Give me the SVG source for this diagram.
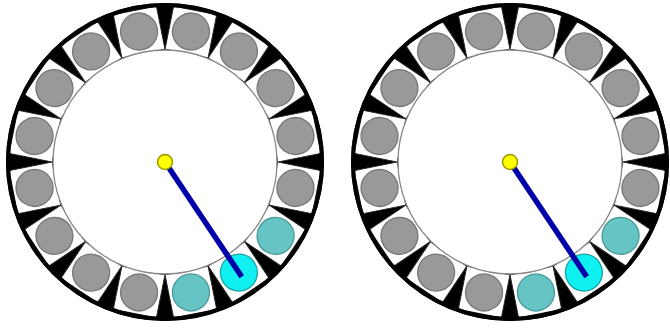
<svg xmlns="http://www.w3.org/2000/svg" xmlns:xlink="http://www.w3.org/1999/xlink" width="670" height="328" viewBox="0 0 670 328">
  <style>
    .rim { fill: #000; }
    .ring { fill: none; stroke: #000; stroke-width: 4; }
    .pocket { fill: #fff; stroke: #222; stroke-width: 1; }
    .hub { fill: #fff; stroke: #888; stroke-width: 1.3; }
    .ball { fill: #999; stroke: #777; stroke-width: 1.3; }
    .teal { fill: #66c4c4; stroke: #4a9a9a; stroke-width: 1.3; }
    .cyan { fill: #11f0f0; stroke: #1aa0a0; stroke-width: 1.3; }
    .rod { stroke: #0000aa; stroke-width: 5.5; stroke-linecap: butt; }
    .pivot { fill: #ffff00; stroke: #999900; stroke-width: 1.5; }
  </style>
  <defs>
    <path id="pocket" class="pocket" d="M110.6,-22 L154.6,-22 L154.6,22 L110.6,22 Z"/>
    <g id="wheelbase">
      <circle class="rim" r="159"/>
      <use xlink:href="#pocket" transform="rotate(11.25)"/>
      <use xlink:href="#pocket" transform="rotate(33.75)"/>
      <use xlink:href="#pocket" transform="rotate(56.25)"/>
      <use xlink:href="#pocket" transform="rotate(78.75)"/>
      <use xlink:href="#pocket" transform="rotate(101.25)"/>
      <use xlink:href="#pocket" transform="rotate(123.75)"/>
      <use xlink:href="#pocket" transform="rotate(146.25)"/>
      <use xlink:href="#pocket" transform="rotate(168.75)"/>
      <use xlink:href="#pocket" transform="rotate(191.25)"/>
      <use xlink:href="#pocket" transform="rotate(213.75)"/>
      <use xlink:href="#pocket" transform="rotate(236.25)"/>
      <use xlink:href="#pocket" transform="rotate(258.75)"/>
      <use xlink:href="#pocket" transform="rotate(281.25)"/>
      <use xlink:href="#pocket" transform="rotate(303.75)"/>
      <use xlink:href="#pocket" transform="rotate(326.25)"/>
      <use xlink:href="#pocket" transform="rotate(348.75)"/>
      <circle class="hub" r="112"/>
      <circle class="ring" r="157"/>
      <g>
        <circle class="ball" cx="133" r="18.5" transform="rotate(11.25)"/>
        <circle class="teal" cx="133" r="18.5" transform="rotate(33.75)"/>
        <circle class="cyan" cx="133" r="18.5" transform="rotate(56.25)"/>
        <circle class="teal" cx="133" r="18.5" transform="rotate(78.75)"/>
        <circle class="ball" cx="133" r="18.5" transform="rotate(101.25)"/>
        <circle class="ball" cx="133" r="18.5" transform="rotate(123.75)"/>
        <circle class="ball" cx="133" r="18.5" transform="rotate(146.25)"/>
        <circle class="ball" cx="133" r="18.5" transform="rotate(168.75)"/>
        <circle class="ball" cx="133" r="18.5" transform="rotate(191.25)"/>
        <circle class="ball" cx="133" r="18.5" transform="rotate(213.75)"/>
        <circle class="ball" cx="133" r="18.5" transform="rotate(236.25)"/>
        <circle class="ball" cx="133" r="18.5" transform="rotate(258.75)"/>
        <circle class="ball" cx="133" r="18.5" transform="rotate(281.25)"/>
        <circle class="ball" cx="133" r="18.5" transform="rotate(303.75)"/>
        <circle class="ball" cx="133" r="18.5" transform="rotate(326.25)"/>
        <circle class="ball" cx="133" r="18.5" transform="rotate(348.75)"/>
      </g>
    </g>
  </defs>

  <rect width="670" height="328" fill="#fff"/>

  <g id="wheel-left" transform="translate(165,162)">
    <use xlink:href="#wheelbase"/>
  </g>
  <g id="wheel-right" transform="translate(510,162)">
    <use xlink:href="#wheelbase"/>
  </g>

  <g id="connectors">
    <line class="rod" x1="165" y1="162" x2="241.7" y2="276.7"/>
    <line class="rod" x1="510" y1="162" x2="586.7" y2="276.7"/>
  </g>

  <g id="pivot-left"><circle class="pivot" cx="165" cy="162" r="7.5"/></g>
  <g id="pivot-right"><circle class="pivot" cx="510" cy="162" r="7.5"/></g>
</svg>
